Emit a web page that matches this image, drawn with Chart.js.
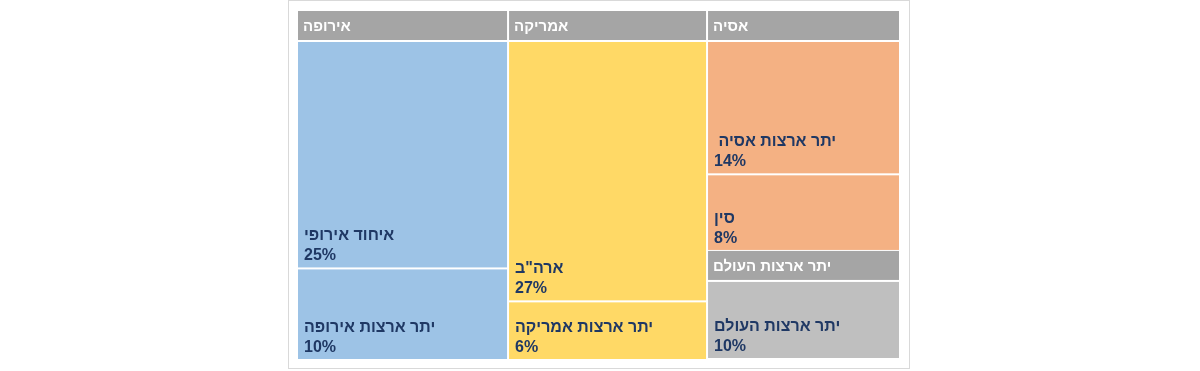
<!DOCTYPE html>
<html>
<head>
<meta charset="utf-8">
<script src="https://cdn.jsdelivr.net/npm/chart.js@4/dist/chart.umd.min.js"></script>
<style>
  html, body { margin: 0; padding: 0; background: #fff; }
  #wrap { width: 1200px; height: 371px; }
</style>
</head>
<body>
<div id="wrap"><canvas id="myChart" width="1200" height="371"></canvas></div>
<script>
// groups (parents) of the treemap
var groupNames = ['אירופה', 'אמריקה', 'אסיה', 'יתר ארצות העולם'];
var groupColumn = [0, 1, 2, 2];
var groupColors = ['#9DC3E6', '#FFD966', '#F4B183', '#BFBFBF'];

// leaves
var leafNames = ['איחוד אירופי', 'יתר ארצות אירופה', 'ארה"ב', 'יתר ארצות אמריקה', ' יתר ארצות אסיה', 'סין', 'יתר ארצות העולם'];
var leafValues = [25, 10, 27, 6, 14, 8, 10];
var leafGroup = [0, 0, 1, 1, 2, 2, 3];

var HEADER_PX = 29;
var GAP = 1;

// build rectangles in data units (x 0-100, y 0-100) from the values
function buildLayout() {
    var total = leafValues.reduce(function (a, b) { return a + b; }, 0);
    var groupSum = groupNames.map(function (g, gi) {
        var s = 0;
        leafValues.forEach(function (v, i) { if (leafGroup[i] === gi) s += v; });
        return s;
    });
    var colSum = [0, 0, 0];
    groupSum.forEach(function (s, gi) { colSum[groupColumn[gi]] += s; });
    var groups = [];
    var x = 0;
    for (var c = 0; c < colSum.length; c++) {
        var w = colSum[c] / total * 100;
        var y = 0;
        groupNames.forEach(function (g, gi) {
            if (groupColumn[gi] !== c) return;
            var h = groupSum[gi] / colSum[c] * 100;
            groups.push({gi: gi, x0: x, x1: x + w, y0: y, y1: y + h});
            y += h;
        });
        x += w;
    }
    return {groups: groups, groupSum: groupSum};
}

var treemapPlugin = {
    id: 'treemap',
    beforeDraw: function (chart) {
        var ctx = chart.ctx;
        ctx.save();
        ctx.strokeStyle = '#D9D9D9';
        ctx.lineWidth = 1;
        ctx.strokeRect(288.5, 0.5, 621, 368);
        ctx.restore();
    },
    afterDatasetsDraw: function (chart) {
        var ctx = chart.ctx;
        var xs = chart.scales.x, ys = chart.scales.y;
        var layout = buildLayout();
        ctx.save();
        layout.groups.forEach(function (g) {
            var left = xs.getPixelForValue(g.x0) + GAP;
            var right = xs.getPixelForValue(g.x1) - GAP;
            var top = ys.getPixelForValue(g.y0) + GAP;
            var bottom = ys.getPixelForValue(g.y1) - GAP;
            // header
            ctx.fillStyle = '#A5A5A5';
            ctx.fillRect(left, top, right - left, HEADER_PX);
            ctx.fillStyle = '#FFFFFF';
            ctx.font = 'bold 15px "Liberation Sans", Arial, sans-serif';
            ctx.textAlign = 'left';
            ctx.textBaseline = 'middle';
            ctx.fillText(groupNames[g.gi], left + 5, top + HEADER_PX / 2 + 1);
            // children
            var cy = top + HEADER_PX + 2 * GAP;
            var avail = bottom + GAP - cy;
            leafValues.forEach(function (v, i) {
                if (leafGroup[i] !== g.gi) return;
                var h = v / layout.groupSum[g.gi] * avail;
                var rt = cy, rb = cy + h - GAP;
                ctx.fillStyle = groupColors[g.gi];
                ctx.fillRect(left, rt, right - left, rb - rt);
                ctx.fillStyle = '#1F3864';
                ctx.font = 'bold 16px "Liberation Sans", Arial, sans-serif';
                ctx.textBaseline = 'alphabetic';
                ctx.fillText(leafNames[i], left + 6, rb - 27);
                ctx.fillText(v + '%', left + 6, rb - 7);
                cy += h + GAP;
            });
        });
        ctx.restore();
    }
};

var myChart = document.getElementById('myChart').getContext('2d');
var chart1 = new Chart(myChart, {
    type: 'scatter',
    data: {
        datasets: [{ data: [], pointRadius: 0 }]
    },
    options: {
        responsive: false,
        animation: false,
        layout: {
            padding: { left: 297, right: 300, top: 10, bottom: 12 }
        },
        scales: {
            x: { type: 'linear', min: 0, max: 100, display: false },
            y: { type: 'linear', min: 0, max: 100, reverse: true, display: false }
        },
        plugins: {
            legend: { display: false },
            tooltip: { enabled: false }
        }
    },
    plugins: [treemapPlugin]
});
</script>
</body>
</html>
